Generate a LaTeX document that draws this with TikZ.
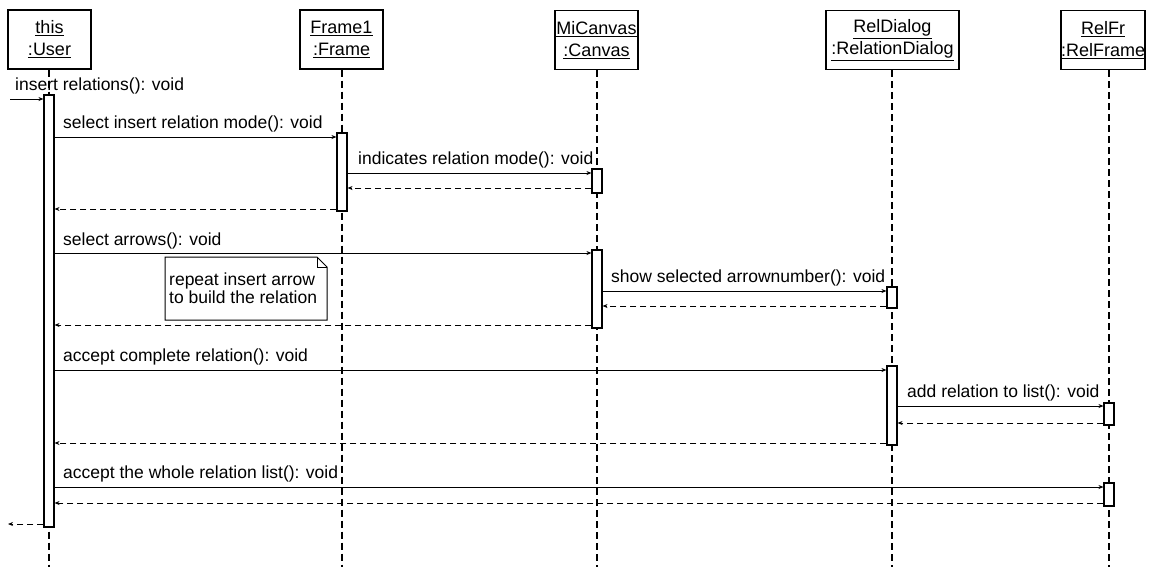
\documentclass[tikz,border=0pt]{standalone}
\usepackage{fontspec}
\setmainfont{Liberation Sans}
\usetikzlibrary{arrows.meta}

\tikzset{
  obj/.style={draw,line width=1.1pt,minimum width=#1,minimum height=59,inner sep=0pt,align=center,font=\fontsize{18}{22}\selectfont},
  act/.style={draw,fill=white,line width=1.1pt,minimum width=10,minimum height=#1,inner sep=0pt},
  life/.style={line width=1.2pt,dash pattern=on 7pt off 4pt},
  call/.style={line width=1pt,-{Stealth[length=5pt,width=4pt]}},
  ret/.style={line width=1pt,dash pattern=on 6pt off 4pt,-{Stealth[length=5pt,width=4pt]}},
  lbl/.style={anchor=base west,inner sep=0pt,font=\fontsize{17.5}{18}\selectfont,align=left},
}

\begin{document}
\begin{tikzpicture}[x=1pt,y=1pt,yscale=-1,xscale=1]
\useasboundingbox (0,0) rectangle (1158,566);

%Objects
\node[obj=83] (user) at (49.5,39.5) {\underline{this}\\\underline{:User}};
\node[obj=83] (frame) at (341.5,39.5) {\underline{Frame1}\\\underline{:Frame}};
\node[obj=83] (canvas) at (596.5,40) {\underline{MiCanvas}\\\underline{:Canvas}};
\node[obj=133] (dialog) at (892.5,40) {\underline{RelDialog}\\\underline{:RelationDialog}};
\node[obj=81] (relfr) at (1103,40) {\underline{RelFr}\\\underline{:RelFrame}};

%Lifelines
\draw[life] (user.south -| 49,0) -- ++(0,497);
\draw[life] (frame.south -| 342,0) -- ++(0,497);
\draw[life] (canvas.south -| 597,0) -- ++(0,497);
\draw[life] (dialog.south -| 892,0) -- ++(0,497);
\draw[life] (relfr.south -| 1109,0) -- ++(0,497);

%Activations
\node[act=432] (ua) at (49,311) {};
\node[act=78] (fa) at (342,172) {};
\node[act=24] (ca1) at (597,181) {};
\node[act=78] (ca2) at (597,289) {};
\node[act=21] (da1) at (892,297.5) {};
\node[act=79] (da2) at (892,405.5) {};
\node[act=22] (ra1) at (1109,414) {};
\node[act=23] (ra2) at (1109,494.5) {};

%Messages
\coordinate (in) at (10,99);
\draw[call] (in) -- (ua.west |- in);
\node[lbl] (m1) at (15,90) {insert relations(): void};

\draw[call] (ua.east |- 0,137) -- (fa.west |- 0,137);
\node[lbl] (m2) at (63,128) {select insert relation mode(): void};
\draw[call] (fa.east |- 0,173) -- (ca1.west |- 0,173);
\node[lbl] (m3) at (358,164) {indicates relation mode(): void};
\draw[ret] (ca1.west |- 0,188) -- (fa.east |- 0,188);
\draw[ret] (fa.west |- 0,209) -- (ua.east |- 0,209);

\draw[call] (ua.east |- 0,253) -- (ca2.west |- 0,253);
\node[lbl] (m4) at (63,245) {select arrows(): void};
\draw[call] (ca2.east |- 0,291) -- (da1.west |- 0,291);
\node[lbl] (m5) at (611,282) {show selected arrownumber(): void};
\draw[ret] (da1.west |- 0,306) -- (ca2.east |- 0,306);
\draw[ret] (ca2.west |- 0,325) -- (ua.east |- 0,325);

\draw[call] (ua.east |- 0,370) -- (da2.west |- 0,370);
\node[lbl] (m6) at (63,361) {accept complete relation(): void};
\draw[call] (da2.east |- 0,406) -- (ra1.west |- 0,406);
\node[lbl] (m7) at (907,397) {add relation to list(): void};
\draw[ret] (ra1.west |- 0,423) -- (da2.east |- 0,423);
\draw[ret] (da2.west |- 0,443) -- (ua.east |- 0,443);

\draw[call] (ua.east |- 0,487) -- (ra2.west |- 0,487);
\node[lbl] (m8) at (63,478) {accept the whole relation list(): void};
\draw[ret] (ra2.west |- 0,503) -- (ua.east |- 0,503);

\coordinate (out) at (8,524);
\draw[ret] (ua.west |- out) -- (out);

%Note
\draw[line width=1pt,fill=white] (165,257) -- (317,257) -- (327,267) -- (327,320) -- (165,320) -- cycle;
\draw[line width=1pt] (317,257) -- (317,267) -- (327,267);
\node[lbl] (note) at (169,303) {repeat insert arrow\\to build the relation};

\end{tikzpicture}
\end{document}
